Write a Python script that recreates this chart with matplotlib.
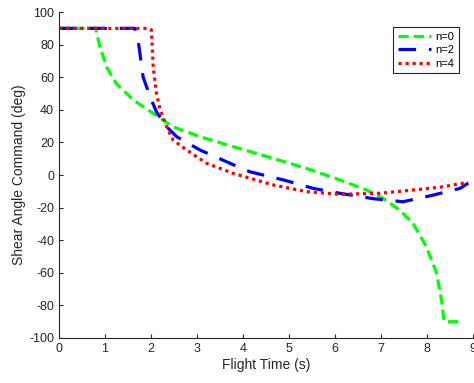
import matplotlib.pyplot as plt

plt.rcParams['font.family'] = ['Liberation Sans', 'DejaVu Sans']
plt.rcParams['axes.unicode_minus'] = False

# n=0 curve
t0 = [0, 0.5, 0.8, 0.82, 0.89, 1.04, 1.25, 1.62, 2.05, 2.48, 3.07, 3.79, 4.66, 5.38,
      6.11, 6.69, 7.05, 7.41, 7.70, 7.99, 8.21, 8.32, 8.37, 8.40, 8.72]
a0 = [90, 90, 90, 87, 78.7, 66, 56, 46, 37.8, 29.6, 23.5, 17.4, 10.2, 4.1,
      -3, -9.2, -14.3, -21.5, -29.6, -44, -60, -76.7, -89, -90, -90]

# n=2 curve
t2 = [0, 1.0, 1.65, 1.72, 1.83, 2.01, 2.12, 2.34, 2.56, 3.07, 3.72, 4.15, 4.88, 5.53,
      6.11, 6.83, 7.48, 8.14, 8.72, 8.9]
a2 = [90, 90, 90, 82.8, 60, 46, 38.8, 29.6, 23.5, 15.3, 7.2, 2, -3, -8.2,
      -11.2, -14.5, -16.4, -12.3, -8.2, -5]

# n=4 curve
t4 = [0, 1.0, 1.95, 2.01, 2.05, 2.12, 2.2, 2.34, 2.48, 2.78, 3.21, 3.79, 4.66, 5.38,
      6.11, 6.98, 7.56, 8.28, 8.9]
a4 = [90, 90, 90, 89, 66, 50, 40, 29.6, 21.5, 15.3, 7.2, 1, -6.1, -10.2,
      -11.8, -11.2, -9.6, -7.5, -4.5]

labels = ['n=0', 'n=2', 'n=4']

fig = plt.figure(figsize=(4.74, 3.83), dpi=100)
ax = fig.add_axes([0.1245, 0.1175, 0.873, 0.851])

ax.plot(t0, a0, color='#00ff00', lw=2.3, dashes=(3.2, 1.6), label=labels[0])
ax.plot(t2, a2, color='#0000ff', lw=2.3, dashes=(5.5, 4), label=labels[1])
ax.plot(t4, a4, color='#ff0000', lw=2.3, dashes=(1, 1.2), label=labels[2])

ax.set_xlim(0, 9)
ax.set_ylim(-100, 100)
ax.set_xticks(range(0, 10))
ax.set_yticks(range(-100, 101, 20))

for s in ['top', 'right']:
    ax.spines[s].set_visible(False)
for s in ['left', 'bottom']:
    ax.spines[s].set_color('#262626')
    ax.spines[s].set_linewidth(0.8)

ax.tick_params(direction='in', length=3, width=0.8, colors='#262626', labelsize=9)
ax.set_xlabel('Flight Time (s)', fontsize=10, color='#262626', labelpad=2)
ax.set_ylabel('Shear Angle Command (deg)', fontsize=10, color='#262626', labelpad=2)

leg = ax.legend(loc='upper right', bbox_to_anchor=(0.98, 0.97), fontsize=8,
                fancybox=False, framealpha=1, edgecolor='#262626',
                handlelength=3, borderpad=0.4, labelspacing=0.3, handletextpad=0.4)
leg.get_frame().set_linewidth(0.8)

fig.savefig('out.png', dpi=100)
